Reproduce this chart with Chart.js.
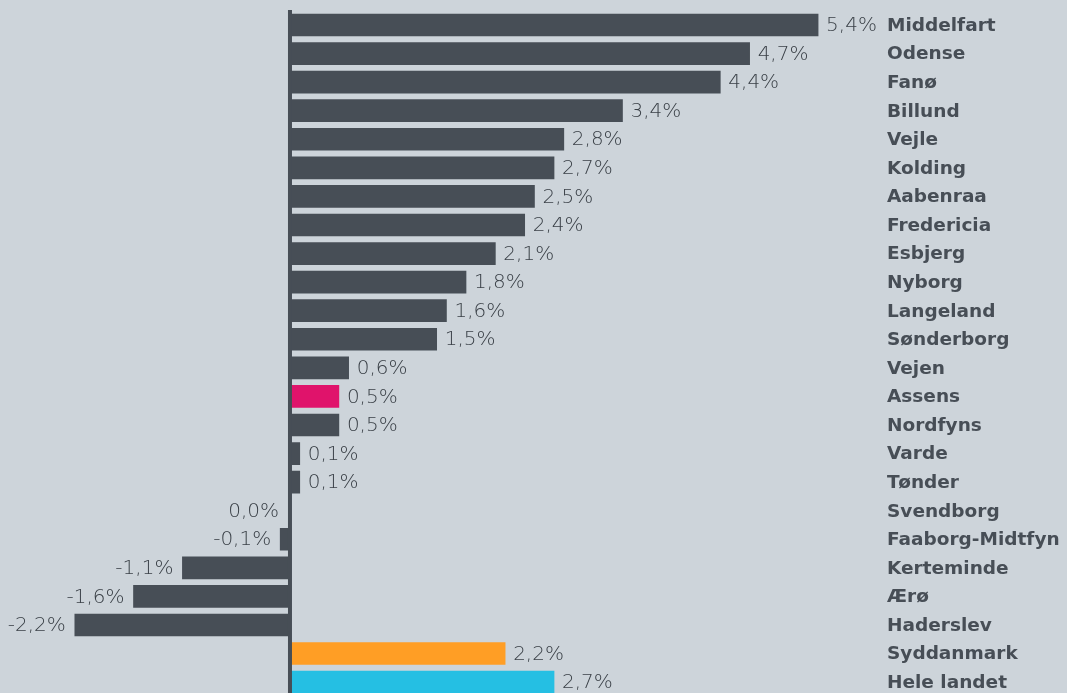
<!DOCTYPE html>
<html>
<head>
<meta charset="utf-8">
<script src="https://cdn.jsdelivr.net/npm/chart.js@4"></script>
<style>
  html, body { margin: 0; padding: 0; background: #cdd4da; overflow: hidden; width: 1067px; height: 693px; }
  canvas { display: block; }
</style>
</head>
<body>
<canvas id="c" width="1067" height="700"></canvas>
<script>
const categories = ["Middelfart","Odense","Fanø","Billund","Vejle","Kolding","Aabenraa","Fredericia","Esbjerg","Nyborg","Langeland","Sønderborg","Vejen","Assens","Nordfyns","Varde","Tønder","Svendborg","Faaborg-Midtfyn","Kerteminde","Ærø","Haderslev","Syddanmark","Hele landet"];
const values = [5.4,4.7,4.4,3.4,2.8,2.7,2.5,2.4,2.1,1.8,1.6,1.5,0.6,0.5,0.5,0.1,0.1,0.0,-0.1,-1.1,-1.6,-2.2,2.2,2.7];
const highlightColors = { "Assens": "#e0136b", "Syddanmark": "#ff9e25", "Hele landet": "#25bfe3" };
const baseColor = "#474e56";

const fmt = v => v.toFixed(1).replace('.', ',') + '%';

const labelPlugin = {
  id: 'labels',
  afterDatasetsDraw(chart) {
    const ctx = chart.ctx;
    const xs = chart.scales.x, ys = chart.scales.y;
    const x0 = xs.getPixelForValue(0);
    ctx.save();
    ctx.fillStyle = baseColor;
    ctx.fillRect(x0 - 2, 10, 4, chart.height);
    ctx.textBaseline = 'middle';
    categories.forEach((c, i) => {
      const y = ys.getPixelForValue(i);
      const v = values[i];
      const xe = xs.getPixelForValue(v);
      ctx.font = '200 20px "DejaVu Sans", sans-serif';
      ctx.fillStyle = '#3a4047';
      if (v > 0) {
        ctx.textAlign = 'left';
        ctx.fillText(fmt(v), Math.max(xe, x0 + 2) + 8, y + 1);
      } else {
        ctx.textAlign = 'right';
        ctx.fillText(fmt(v), Math.min(xe, x0 - 2) - 9, y + 1);
      }
      ctx.font = 'bold 18.5px "DejaVu Sans", sans-serif';
      ctx.fillStyle = baseColor;
      ctx.textAlign = 'left';
      ctx.fillText(c, 887, y + 1);
    });
    ctx.restore();
  }
};

new Chart(document.getElementById('c'), {
  type: 'bar',
  data: {
    labels: categories,
    datasets: [{
      data: values,
      backgroundColor: categories.map(c => highlightColors[c] || baseColor),
      borderWidth: 0,
      barThickness: 22
    }]
  },
  options: {
    indexAxis: 'y',
    responsive: false,
    animation: false,
    devicePixelRatio: 1,
    layout: { padding: { top: 10.7, bottom: 3.6, left: 0, right: 0 } },
    plugins: { legend: { display: false }, tooltip: { enabled: false } },
    scales: {
      x: { type: 'linear', min: -2.965, max: 7.945, display: false },
      y: { display: false, offset: true }
    }
  },
  plugins: [labelPlugin]
});
</script>
</body>
</html>
